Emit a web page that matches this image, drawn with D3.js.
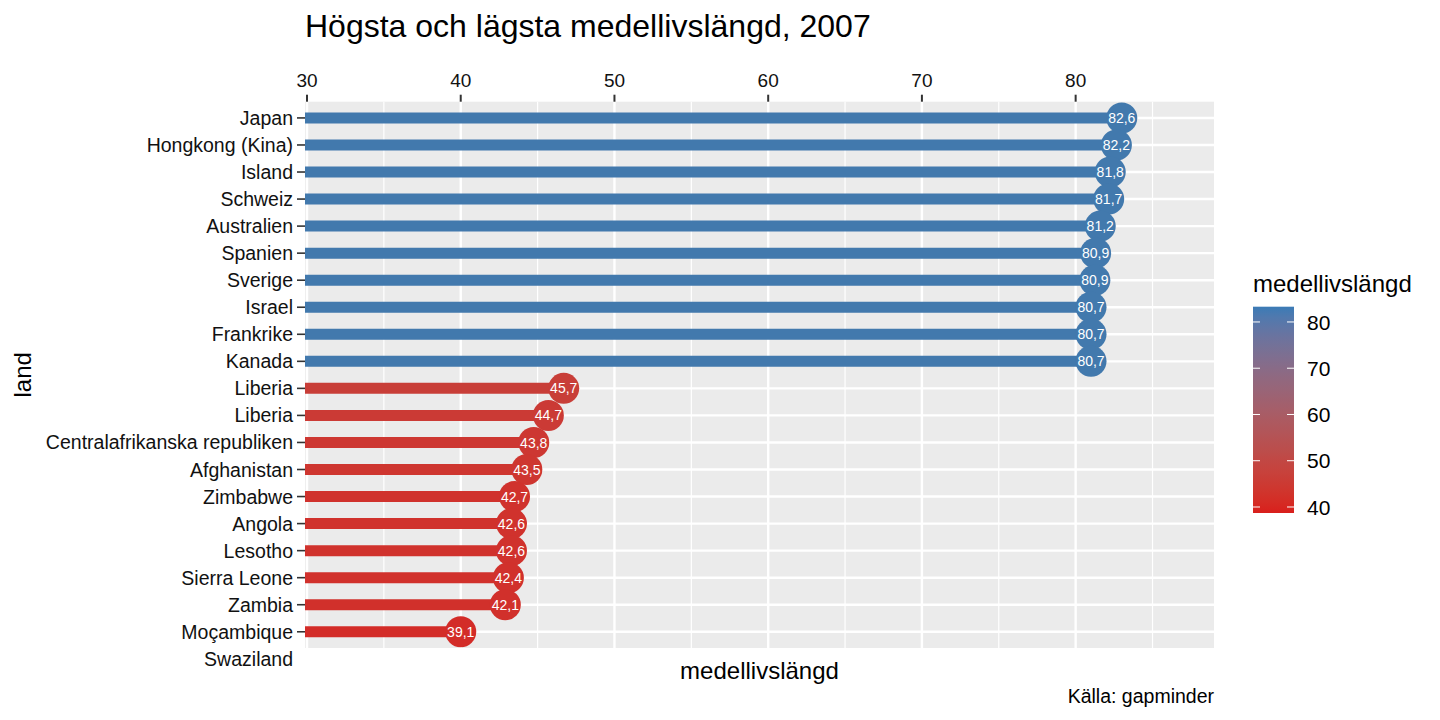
<!DOCTYPE html>
<html>
<head>
<meta charset="utf-8">
<script src="https://cdn.jsdelivr.net/npm/d3@7"></script>
<style>
  body { margin: 0; background: #fff; }
  text { font-family: "Liberation Sans", Arial, sans-serif; }
</style>
</head>
<body>
<div id="container"></div>
<script>
// y-axis categories, top to bottom (the last one has no bar)
const countries = ["Japan", "Hongkong (Kina)", "Island", "Schweiz", "Australien", "Spanien",
  "Sverige", "Israel", "Frankrike", "Kanada", "Liberia", "Liberia",
  "Centralafrikanska republiken", "Afghanistan", "Zimbabwe", "Angola", "Lesotho",
  "Sierra Leone", "Zambia", "Moçambique", "Swaziland"];

// where each lollipop ends
const lifeExp = [83.0, 82.65, 82.25, 82.15, 81.6, 81.3, 81.25, 81.0, 81.0, 81.0,
  46.7, 45.7, 44.75, 44.3, 43.5, 43.3, 43.3, 43.1, 42.9, 40.0];

// numbers printed inside the dots
const labelValues = [82.6, 82.2, 81.8, 81.7, 81.2, 80.9, 80.9, 80.7, 80.7, 80.7,
  45.7, 44.7, 43.8, 43.5, 42.7, 42.6, 42.6, 42.4, 42.1, 39.1];

const xMajor = [30, 40, 50, 60, 70, 80];
const xMinor = [35, 45, 55, 65, 75, 85];
const legendTicks = [40, 50, 60, 70, 80];

const width = 1440, height = 720;
const panel = { left: 305, right: 1214, top: 101.7, bottom: 648 };
const step = (panel.bottom - panel.top) / 20.2;

const svg = d3.select('#container').append('svg')
  .attr('width', width)
  .attr('height', height);

const x = d3.scaleLinear()
  .domain([29.87, 89])
  .range([panel.left, panel.right]);

const y = d3.scalePoint()
  .domain(d3.range(countries.length))
  .range([panel.top + 0.6 * step, panel.top + 0.6 * step + 20 * step]);

const color = d3.scaleLinear()
  .domain([42, 81])
  .range(["#d32c28", "#4279ad"])
  .interpolate(d3.interpolateLab)
  .clamp(true);

const fmt = d3.formatLocale({ decimal: ",", thousands: " ", grouping: [3], currency: ["", " kr"] }).format(".1f");

// panel background and grid
svg.append('rect')
  .attr('x', panel.left).attr('y', panel.top)
  .attr('width', panel.right - panel.left)
  .attr('height', panel.bottom - panel.top)
  .style('fill', '#ebebeb');

svg.selectAll('.minor').data(xMinor).join('line')
  .attr('x1', d => x(d)).attr('x2', d => x(d))
  .attr('y1', panel.top).attr('y2', panel.bottom)
  .style('stroke', '#fff').style('stroke-width', 1.2);

svg.selectAll('.major').data(xMajor).join('line')
  .attr('x1', d => x(d)).attr('x2', d => x(d))
  .attr('y1', panel.top).attr('y2', panel.bottom)
  .style('stroke', '#fff').style('stroke-width', 2.4);

svg.selectAll('.hgrid').data(lifeExp).join('line')
  .attr('x1', panel.left).attr('x2', panel.right)
  .attr('y1', (d, i) => y(i)).attr('y2', (d, i) => y(i))
  .style('stroke', '#fff').style('stroke-width', 2.4);

// lollipops
svg.selectAll('.stick').data(lifeExp).join('line')
  .attr('x1', x.range()[0]).attr('x2', d => x(d))
  .attr('y1', (d, i) => y(i)).attr('y2', (d, i) => y(i))
  .style('stroke', d => color(d)).style('stroke-width', 11);

svg.selectAll('.dot').data(lifeExp).join('circle')
  .attr('cx', d => x(d)).attr('cy', (d, i) => y(i))
  .attr('r', 15.5)
  .style('fill', d => color(d));

svg.selectAll('.dotlabel').data(lifeExp).join('text')
  .attr('x', d => x(d)).attr('y', (d, i) => y(i))
  .attr('dy', '0.36em')
  .attr('text-anchor', 'middle')
  .style('fill', '#fff').style('font-size', '14px')
  .text((d, i) => fmt(labelValues[i]));

// top x axis
const xAxis = svg.append('g');
xAxis.selectAll('line').data(xMajor).join('line')
  .attr('x1', d => x(d)).attr('x2', d => x(d))
  .attr('y1', panel.top - 7).attr('y2', panel.top)
  .style('stroke', '#333').style('stroke-width', 2);
xAxis.selectAll('text').data(xMajor).join('text')
  .attr('x', d => x(d)).attr('y', panel.top - 15)
  .attr('text-anchor', 'middle')
  .style('font-size', '19px').style('fill', '#111')
  .text(d => d);

// y axis
const yAxis = svg.append('g');
yAxis.selectAll('line').data(lifeExp).join('line')
  .attr('x1', panel.left - 8).attr('x2', panel.left)
  .attr('y1', (d, i) => y(i)).attr('y2', (d, i) => y(i))
  .style('stroke', '#333').style('stroke-width', 1.6);
yAxis.selectAll('text').data(countries).join('text')
  .attr('x', panel.left - 12).attr('y', (d, i) => y(i))
  .attr('dy', '0.36em')
  .attr('text-anchor', 'end')
  .style('font-size', '19.5px').style('fill', '#111')
  .text(d => d);

// titles
svg.append('text')
  .attr('x', panel.left).attr('y', 37)
  .style('font-size', '32px').style('fill', '#000')
  .text('Högsta och lägsta medellivslängd, 2007');

svg.append('text')
  .attr('x', (panel.left + panel.right) / 2).attr('y', 679)
  .attr('text-anchor', 'middle')
  .style('font-size', '24px').style('fill', '#000')
  .text('medellivslängd');

svg.append('text')
  .attr('transform', `translate(31,${(panel.top + panel.bottom) / 2}) rotate(-90)`)
  .attr('text-anchor', 'middle')
  .style('font-size', '24px').style('fill', '#000')
  .text('land');

svg.append('text')
  .attr('x', panel.right).attr('y', 703)
  .attr('text-anchor', 'end')
  .style('font-size', '19.5px').style('fill', '#000')
  .text('Källa: gapminder');

// colour legend
const legend = { left: 1253, width: 41, top: 306.7, bottom: 513 };
const ly = d3.scaleLinear().domain([38.7, 83.3]).range([legend.bottom, legend.top]);
const legendColor = d3.scaleLinear()
  .domain(ly.domain())
  .range(["#d91f1c", "#3b7bb6"])
  .interpolate(d3.interpolateLab);

const grad = svg.append('defs').append('linearGradient')
  .attr('id', 'lgrad')
  .attr('x1', 0).attr('y1', 1).attr('x2', 0).attr('y2', 0);
const stops = d3.range(0, 1.0001, 0.05);
grad.selectAll('stop').data(stops).join('stop')
  .attr('offset', d => d)
  .attr('stop-color', d => legendColor(ly.domain()[0] + d * (ly.domain()[1] - ly.domain()[0])));

svg.append('rect')
  .attr('x', legend.left).attr('y', legend.top)
  .attr('width', legend.width).attr('height', legend.bottom - legend.top)
  .style('fill', 'url(#lgrad)');

const lg = svg.append('g');
lg.selectAll('.lt1').data(legendTicks).join('line')
  .attr('x1', legend.left).attr('x2', legend.left + 7)
  .attr('y1', d => ly(d)).attr('y2', d => ly(d))
  .style('stroke', '#fff').style('stroke-width', 1);
lg.selectAll('.lt2').data(legendTicks).join('line')
  .attr('x1', legend.left + legend.width - 7).attr('x2', legend.left + legend.width)
  .attr('y1', d => ly(d)).attr('y2', d => ly(d))
  .style('stroke', '#fff').style('stroke-width', 1);
lg.selectAll('text').data(legendTicks).join('text')
  .attr('x', legend.left + legend.width + 13).attr('y', d => ly(d))
  .attr('dy', '0.36em')
  .style('font-size', '21px').style('fill', '#000')
  .text(d => d);

svg.append('text')
  .attr('x', legend.left).attr('y', 292)
  .style('font-size', '24px').style('fill', '#000')
  .text('medellivslängd');
</script>
</body>
</html>
